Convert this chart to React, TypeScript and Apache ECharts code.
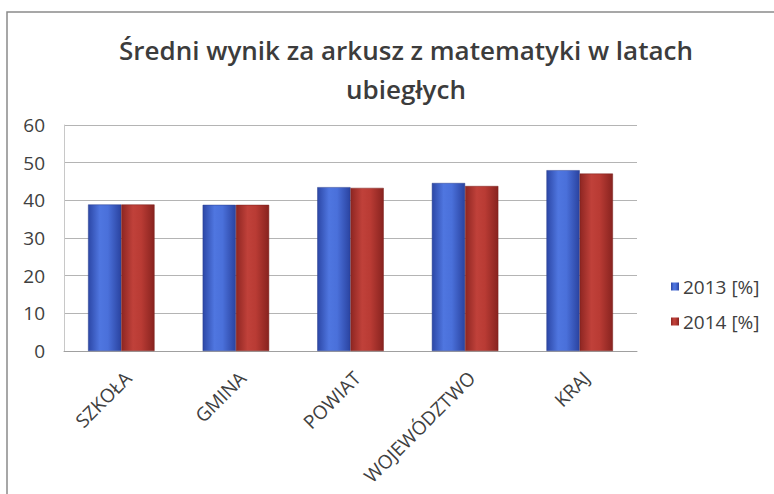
import React, { useEffect, useRef } from "react";
import * as echarts from "echarts";

const titleText = "Średni wynik za arkusz z matematyki w latach\nubiegłych";
const categories = ["SZKOŁA", "GMINA", "POWIAT", "WOJEWÓDZTWO", "KRAJ"];
const seriesNames = ["2013 [%]", "2014 [%]"];
const values2013 = [38.9, 38.8, 43.5, 44.6, 48.0];
const values2014 = [38.9, 38.8, 43.3, 43.8, 47.1];
const yTicks = { min: 0, max: 60, interval: 10 };

const blueGrad = new echarts.graphic.LinearGradient(0, 0, 1, 0, [
  { offset: 0, color: "#2c47a6" },
  { offset: 0.35, color: "#4f76e0" },
  { offset: 0.6, color: "#4a70da" },
  { offset: 1, color: "#2a43a0" },
]);
const redGrad = new echarts.graphic.LinearGradient(0, 0, 1, 0, [
  { offset: 0, color: "#8e2622" },
  { offset: 0.35, color: "#c0413a" },
  { offset: 0.6, color: "#b93b34" },
  { offset: 1, color: "#88231f" },
]);

export default function App() {
  const ref = useRef<HTMLDivElement>(null);
  useEffect(() => {
    if (!ref.current) return;
    const chart = echarts.init(ref.current, undefined, { renderer: "svg" });
    chart.setOption({
      animation: false,
      backgroundColor: "#ffffff",
      textStyle: { fontFamily: "Open Sans" },
      title: {
        text: titleText,
        left: 401,
        top: 25,
        textAlign: "center",
        textStyle: {
          fontFamily: "Open Sans",
          fontSize: 26,
          fontWeight: 600,
          color: "#3c3c3c",
          lineHeight: 39,
        },
      },
      graphic: [
        {
          type: "rect",
          shape: { x: 7, y: 12, width: 800, height: 520 },
          style: { fill: "none", stroke: "#8a8a8a", lineWidth: 1.5 },
          silent: true,
          z: -1,
        },
      ],
      legend: {
        orient: "vertical",
        left: 666,
        top: 272,
        itemWidth: 8,
        itemHeight: 8,
        itemGap: 16,
        itemStyle: { borderWidth: 0 },
        icon: "rect",
        textStyle: { fontSize: 19, color: "#404040", fontFamily: "Open Sans", padding: [0, 0, 0, -1] },
        data: seriesNames,
      },
      grid: { left: 64, right: 137, top: 125, bottom: 143, containLabel: false },
      xAxis: {
        type: "category",
        data: categories,
        axisLine: { show: true, lineStyle: { color: "#a0a0a0" } },
        axisTick: { show: false },
        axisLabel: {
          rotate: 45,
          fontSize: 19,
          color: "#404040",
          margin: 17,
          interval: 0,
          align: "right",
          verticalAlign: "top",
        },
      },
      yAxis: {
        type: "value",
        min: yTicks.min,
        max: yTicks.max,
        interval: yTicks.interval,
        axisLine: { show: true, lineStyle: { color: "#c8c8c8" } },
        axisTick: { show: false },
        axisLabel: { fontSize: 19, color: "#404040", margin: 19 },
        splitLine: { lineStyle: { color: "#b4b4b4", width: 1 } },
      },
      series: [
        {
          name: seriesNames[0],
          type: "bar",
          data: values2013,
          barGap: "0%",
          barCategoryGap: "42%",
          itemStyle: { color: blueGrad, borderColor: "#2a3f8f", borderWidth: 0.5 },
        },
        {
          name: seriesNames[1],
          type: "bar",
          data: values2014,
          itemStyle: { color: redGrad, borderColor: "#7a201c", borderWidth: 0.5 },
        },
      ],
    });
    return () => chart.dispose();
  }, []);
  return (
    <div
      ref={ref}
      style={{ position: "fixed", left: 0, top: 0, width: 774, height: 494 }}
    />
  );
}
